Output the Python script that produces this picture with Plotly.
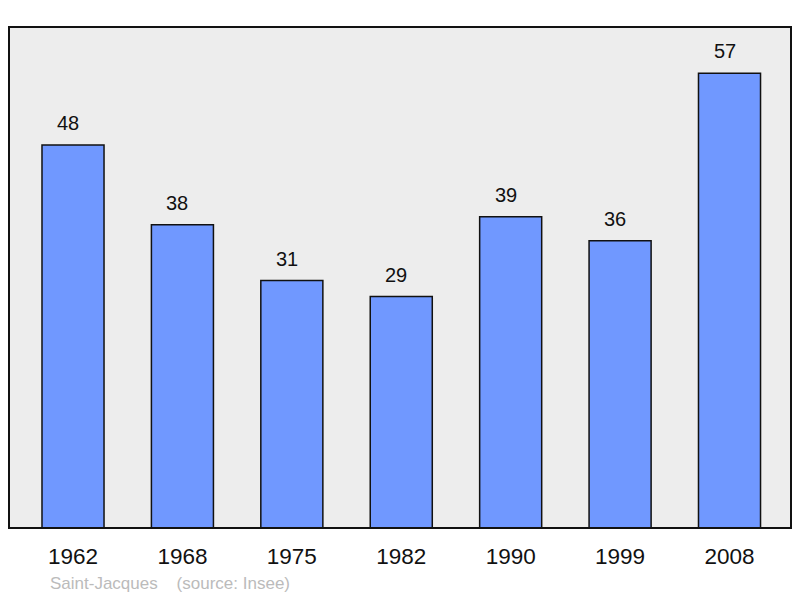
import plotly.graph_objects as go

years = ["1962", "1968", "1975", "1982", "1990", "1999", "2008"]
population = [48, 38, 31, 29, 39, 36, 57]
source_text = "Saint-Jacques    (source: Insee)"

fig = go.Figure()
fig.add_trace(go.Bar(
    x=years, y=population, width=0.567,
    marker=dict(color="#7098FF", line=dict(color="#111111", width=1.5)),
    hoverinfo="skip",
))

for i, v in enumerate(population):
    fig.add_annotation(x=i, y=v, text=str(v), showarrow=False, yshift=22, xshift=-5,
                       yanchor="middle", font=dict(size=20, color="#111111",
                                                   family="Liberation Sans"))

fig.add_annotation(xref="paper", yref="paper", x=(48 - 9) / 782, y=-(583 - 528) / 501,
                   xanchor="left", yanchor="middle", text=source_text, showarrow=False,
                   font=dict(size=17, color="#BBBBBB", family="Liberation Sans"))

fig.add_shape(type="rect", xref="paper", yref="paper", x0=0, y0=0, x1=1, y1=1,
              line=dict(color="#111111", width=2), fillcolor="rgba(0,0,0,0)", layer="above")

fig.update_layout(
    width=792, height=590,
    margin=dict(l=1, r=9, t=19, b=70, autoexpand=False),
    paper_bgcolor="white", plot_bgcolor="#EDEDED",
    showlegend=False,
    xaxis=dict(type="category", range=[-0.585, 6.562], showgrid=False, zeroline=False,
               showline=False, ticks="", tickfont=dict(size=22.5, color="#111111",
                                                       family="Liberation Sans"),
               ticklabelstandoff=12, fixedrange=True),
    yaxis=dict(range=[0, 62.78], showgrid=False, zeroline=False, showline=False,
               showticklabels=False, ticks="", fixedrange=True),
)

fig.write_html("out.html", config={"displayModeBar": False})
